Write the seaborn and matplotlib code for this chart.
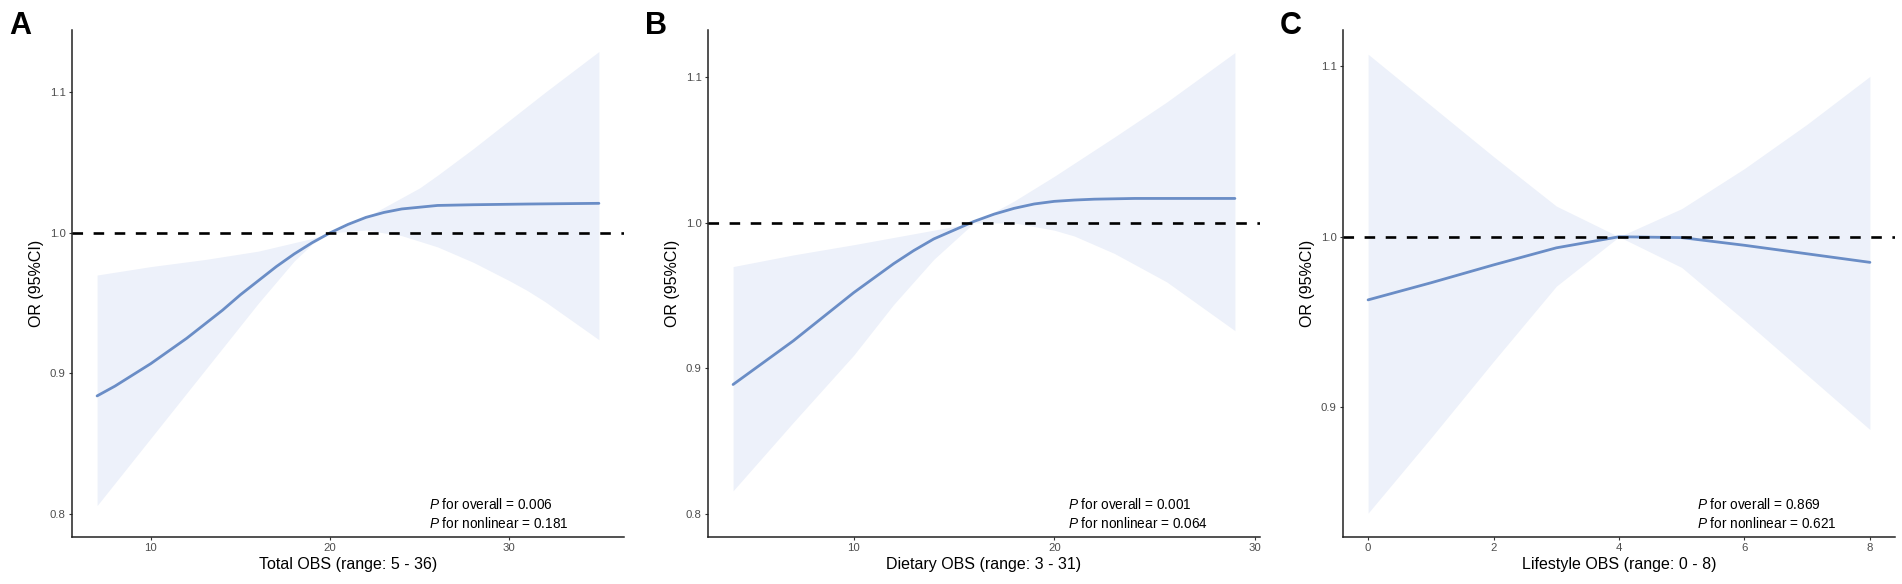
import numpy as np
import pandas as pd
import matplotlib
matplotlib.use("Agg")
import matplotlib.pyplot as plt
import seaborn as sns

# Panel A: Total OBS
a_x = [7, 8, 9, 10, 11, 12, 13, 14, 15, 16, 17, 18, 19, 20, 21, 22, 23, 24, 26, 28, 31, 35]
a_or = [0.884, 0.891, 0.899, 0.907, 0.916, 0.925, 0.935, 0.945, 0.956, 0.966, 0.976,
        0.985, 0.993, 1.000, 1.006, 1.011, 1.0145, 1.017, 1.0195, 1.020, 1.0205, 1.021]
a_ci_x = [7, 10, 13, 16, 18, 19, 20, 22, 24, 25, 26, 28, 30, 31, 32, 35]
a_upper = [0.970, 0.976, 0.981, 0.987, 0.993, 0.996, 1.000, 1.011, 1.025,
           1.032, 1.041, 1.060, 1.080, 1.090, 1.100, 1.129]
a_lower = [0.806, 0.854, 0.902, 0.950, 0.980, 0.992, 1.000, 1.002, 0.998,
           0.994, 0.990, 0.979, 0.966, 0.959, 0.951, 0.924]

# Panel B: Dietary OBS
b_x = [4, 5, 6, 7, 8, 9, 10, 11, 12, 13, 14, 15, 16, 17, 18, 19, 20, 21, 22, 24, 26, 29]
b_or = [0.889, 0.899, 0.909, 0.919, 0.930, 0.941, 0.952, 0.962, 0.972, 0.981, 0.989,
        0.995, 1.001, 1.006, 1.010, 1.013, 1.0148, 1.0157, 1.0163, 1.0168, 1.0168, 1.0168]
b_ci_x = [4, 7, 10, 12, 14, 16, 18, 20, 21, 23, 25.6, 29]
b_upper = [0.970, 0.978, 0.985, 0.990, 0.995, 1.000, 1.015, 1.032, 1.041,
           1.059, 1.083, 1.117]
b_lower = [0.816, 0.863, 0.909, 0.944, 0.975, 1.000, 1.000, 0.995, 0.991,
           0.979, 0.9595, 0.926]

# Panel C: Lifestyle OBS
c_x = [0, 1, 2, 3, 4, 5, 6, 7, 8]
c_or = [0.963, 0.973, 0.9835, 0.9935, 1.000, 0.9995, 0.995, 0.990, 0.985]
c_upper = [1.107, 1.077, 1.047, 1.018, 1.000, 1.0165, 1.040, 1.066, 1.094]
c_lower = [0.838, 0.882, 0.927, 0.971, 1.000, 0.982, 0.951, 0.919, 0.887]

panels = [
    dict(letter="A", x=a_x, y=a_or, ci_x=a_ci_x, up=a_upper, lo=a_lower,
         xlabel="Total OBS (range: 5 - 36)", xlim=(5.6, 36.4), ylim=(0.784, 1.1443),
         xticks=[10, 20, 30], yticks=[0.8, 0.9, 1.0, 1.1],
         p1="0.006", p2="0.181", px=0.646),
    dict(letter="B", x=b_x, y=b_or, ci_x=b_ci_x, up=b_upper, lo=b_lower,
         xlabel="Dietary OBS (range: 3 - 31)", xlim=(2.75, 30.25), ylim=(0.7846, 1.1325),
         xticks=[10, 20, 30], yticks=[0.8, 0.9, 1.0, 1.1],
         p1="0.001", p2="0.064", px=0.652),
    dict(letter="C", x=c_x, y=c_or, ci_x=c_x, up=c_upper, lo=c_lower,
         xlabel="Lifestyle OBS (range: 0 - 8)", xlim=(-0.4, 8.4), ylim=(0.8243, 1.1212),
         xticks=[0, 2, 4, 6, 8], yticks=[0.9, 1.0, 1.1],
         p1="0.869", p2="0.621", px=0.641),
]

sns.set_theme(style="ticks")
plt.rcParams['font.family'] = ['Liberation Sans', 'DejaVu Sans']
plt.rcParams['mathtext.fontset'] = 'custom'
plt.rcParams['mathtext.it'] = 'Liberation Sans:italic'
plt.rcParams['mathtext.rm'] = 'Liberation Sans'

line_color = "#6A8DC6"
band_color = "#EDF1FA"

fig = plt.figure(figsize=(19.02, 5.84), dpi=100)
lefts = [72 / 1902, 708 / 1902, 1343 / 1902]
bottom = 47.5 / 584
width = 552 / 1902
height = 506.5 / 584

for left, p in zip(lefts, panels):
    ax = fig.add_axes([left, bottom, width, height])
    ax.fill_between(p["ci_x"], p["lo"], p["up"], color=band_color, linewidth=0, zorder=1)
    df = pd.DataFrame({"x": p["x"], "OR": p["y"]})
    sns.lineplot(data=df, x="x", y="OR", ax=ax, color=line_color, linewidth=2.0, zorder=3)
    ax.axhline(1.0, color="black", linewidth=1.9, dashes=(4, 4), zorder=4)

    ax.set_xlim(*p["xlim"])
    ax.set_ylim(*p["ylim"])
    ax.set_xticks(p["xticks"])
    ax.set_xticklabels([str(t) for t in p["xticks"]])
    ax.set_yticks(p["yticks"])
    ax.set_yticklabels([f"{t:.1f}" for t in p["yticks"]])
    ax.tick_params(axis="both", length=2.5, width=0.8, color="#333333",
                   labelsize=8.2, labelcolor="#4D4D4D", pad=2)
    ax.set_xlabel(p["xlabel"], fontsize=11.5, color="black", labelpad=3)
    ax.set_ylabel("OR (95%CI)", fontsize=11.5, color="black", labelpad=4)
    sns.despine(ax=ax)
    for s in ["left", "bottom"]:
        ax.spines[s].set_linewidth(1.1)
        ax.spines[s].set_color("#222222")

    ax.text(p["px"], 0.063, r"$\it{P}$ for overall = " + p["p1"], transform=ax.transAxes,
            fontsize=9.8, ha="left", va="center", color="black")
    ax.text(p["px"], 0.025, r"$\it{P}$ for nonlinear = " + p["p2"], transform=ax.transAxes,
            fontsize=9.8, ha="left", va="center", color="black")

    fig.text(left - 63 / 1902, 1 - 26 / 584, p["letter"], fontsize=22, fontweight="bold",
             ha="left", va="center", color="black")

fig.savefig("out.png", dpi=100)
